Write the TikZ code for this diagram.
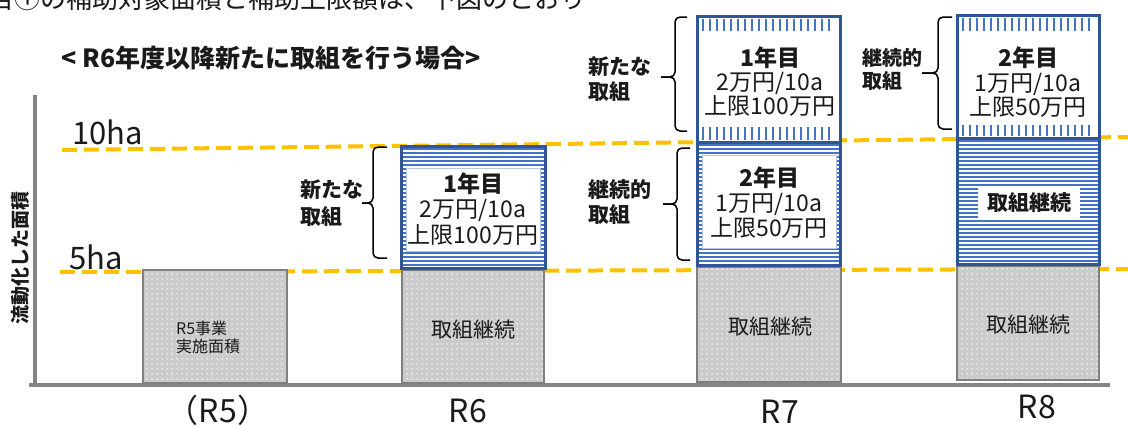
\documentclass[tikz,border=0pt]{standalone}
\usepackage{fontspec}
\setmainfont{Noto Sans CJK JP}
\usetikzlibrary{patterns.meta}
\definecolor{axisgray}{HTML}{858585}
\definecolor{boxgray}{HTML}{CBCBCB}
\definecolor{edgegray}{HTML}{808080}
\definecolor{dashgold}{HTML}{FFC000}
\definecolor{bblue}{HTML}{2F5597}
\definecolor{sblue}{HTML}{4472C4}
\definecolor{lblue}{HTML}{B4C7E7}
\definecolor{txt}{HTML}{1A1A1A}
\newcommand{\myfs}[1]{\fontsize{#1}{#1}\selectfont}
\tikzdeclarepattern{name=wdots, type=uncolored,
  bounding box={(0pt,0pt) and (5pt,5pt)}, tile size={(5pt,5pt)},
  code={\fill (2.5pt,2.5pt) circle (0.9pt);}}
\tikzset{
  graybox/.style={preaction={fill=boxgray}, pattern={wdots}, pattern color=white, draw=edgegray, line width=2.8pt},
  bluebox/.style={draw=bblue, line width=3pt},
  stripe/.style={draw=sblue, line width=2pt},
  tick/.style={fill=sblue},
  innerbox/.style={fill=white, draw=lblue, line width=1pt},
  goldline/.style={draw=dashgold, line width=4pt, dash pattern=on 15pt off 7pt},
  axisline/.style={draw=axisgray, line width=4.5pt},
  brc/.style={draw=black, line width=1.5pt, rounded corners=5pt},
  boxtxt/.style={font=\myfs{23}},
  yeartxt/.style={font=\bfseries\myfs{23}},
  bracetxt/.style={font=\bfseries\myfs{21}, anchor=west},
  xlab/.style={font=\myfs{32}},
}
\begin{document}
\begin{tikzpicture}[x=1pt,y=-1pt, every node/.style={inner sep=0pt, text=txt}]
\useasboundingbox (0,0) rectangle (1128,426);
\clip (0,0) rectangle (1128,426);
\fill[white] (0,0) rectangle (1128,426);

% partial top line
\node[anchor=base west, font=\myfs{26}] (toptext) at (-12,8.5) {目①の補助対象面積と補助上限額は、下図のとおり};

% title
\node[font=\bfseries\myfs{25}] (title) at (271,58) {< R6年度以降新たに取組を行う場合>};

% dashed level lines
\coordinate (d10a) at (62,150);
\coordinate (d10b) at (1128,137);
\coordinate (d5a) at (60,272);
\coordinate (d5b) at (1128,269);
\draw[goldline] (d10a) -- (d10b);
\draw[goldline] (d5a) -- (d5b);

% axes
\coordinate (ytop) at (35,95);
\coordinate (ybot) at (35,386);
\coordinate (xl) at (29,385);
\coordinate (xr) at (1110,385);
\draw[axisline] (ytop) -- (ybot);
\draw[axisline] (xl) -- (xr);

% axis labels
\node[font=\myfs{31}, anchor=west] (l10) at (72,132) {10ha};
\node[font=\myfs{31}, anchor=west] (l5) at (69,257) {5ha};
\node[font=\bfseries\myfs{19}, rotate=90] (ylab) at (20,258) {流動化した面積};

% R5
\draw[graybox] (143,270) rectangle (287,383);
\node[font=\myfs{16}, anchor=west] (r5a) at (176,328) {R5事業};
\node[font=\myfs{16}, anchor=west] (r5b) at (176,346) {実施面積};

% R6
\draw[graybox] (402,270) rectangle (544,383);
\node[font=\myfs{21}] (r6c) at (473,330) {取組継続};
\fill[white] (401,146) rectangle (545,268);
\foreach \yy in {149,153,...,265} \draw[stripe] (402.5,\yy) -- (543.5,\yy);
\draw[bluebox] (401,146) rectangle (545,268);
\draw[innerbox] (406,168) rectangle (540,251);
\node[yeartxt] (r6y) at (473,184) {1年目};
\node[boxtxt] (r6r) at (473,210) {2万円/10a};
\node[boxtxt] (r6l) at (473,235) {上限100万円};
\draw[brc] (387,147) -- (373,147) -- (373,203) -- (362,203);
\draw[brc] (387,258) -- (373,258) -- (373,203) -- (362,203);
\node[bracetxt] (r6b1) at (300,190) {新たな};
\node[bracetxt] (r6b2) at (300,217) {取組};

% R7
\draw[graybox] (697,267) rectangle (841,382);
\node[font=\myfs{21}] (r7c) at (770,327) {取組継続};
\fill[white] (697,142) rectangle (840,265);
\foreach \yy in {145,149,...,263} \draw[stripe] (698.5,\yy) -- (838.5,\yy);
\draw[bluebox] (697,142) rectangle (840,265);
\draw[innerbox] (702,155) rectangle (836,248);
\node[yeartxt] (r7y2) at (769,178) {2年目};
\node[boxtxt] (r7r2) at (769,204) {1万円/10a};
\node[boxtxt] (r7l2) at (769,228) {上限50万円};
\draw[bluebox, fill=white] (697,16) rectangle (840,142);
\foreach \xx in {702,709,...,834} {
  \fill[tick] (\xx,19) rectangle ++(2,12);
  \fill[tick] (\xx,127) rectangle ++(2,12.5);
}
\node[yeartxt] (r7y1) at (770,58) {1年目};
\node[boxtxt] (r7r1) at (770,83) {2万円/10a};
\node[boxtxt] (r7l1) at (770,106) {上限100万円};
\draw[brc] (687,17) -- (675,17) -- (675,77) -- (661,77);
\draw[brc] (687,131) -- (675,131) -- (675,77) -- (661,77);
\node[bracetxt] (r7b1) at (588,67) {新たな};
\node[bracetxt] (r7b2) at (588,92) {取組};
\draw[brc] (690,148) -- (677,148) -- (677,204) -- (663,204);
\draw[brc] (690,260) -- (677,260) -- (677,204) -- (663,204);
\node[bracetxt] (r7b3) at (588,190) {継続的};
\node[bracetxt] (r7b4) at (588,215) {取組};

% R8
\draw[graybox] (957,266) rectangle (1099,380);
\node[font=\myfs{21}] (r8c) at (1028,325) {取組継続};
\fill[white] (957,138) rectangle (1099,264);
\foreach \yy in {141,145,...,262} \draw[stripe] (958.5,\yy) -- (1097.5,\yy);
\draw[bluebox] (957,138) rectangle (1099,264);
\node[fill=white, minimum width=102pt, minimum height=31pt, font=\bfseries\myfs{21}] (r8m) at (1029,203) {取組継続};
\draw[bluebox, fill=white] (957,15) rectangle (1099,138);
\foreach \xx in {962,969,...,1094} {
  \fill[tick] (\xx,18) rectangle ++(2,13);
  \fill[tick] (\xx,125) rectangle ++(2,11);
}
\node[yeartxt] (r8y) at (1028,58) {2年目};
\node[boxtxt] (r8r) at (1028,84) {1万円/10a};
\node[boxtxt] (r8l) at (1028,107) {上限50万円};
\draw[brc] (952,17) -- (938,17) -- (938,73) -- (922,73);
\draw[brc] (952,129) -- (938,129) -- (938,73) -- (922,73);
\node[font=\bfseries\myfs{20}, anchor=west] (r8b1) at (862,58) {継続的};
\node[font=\bfseries\myfs{20}, anchor=west] (r8b2) at (862,81) {取組};

% x labels
\node[xlab] (x5) at (218,410) {（R5）};
\node[xlab] (x6) at (468,411) {R6};
\node[xlab] (x7) at (780,412) {R7};
\node[xlab] (x8) at (1037,407) {R8};
\end{tikzpicture}
\end{document}
